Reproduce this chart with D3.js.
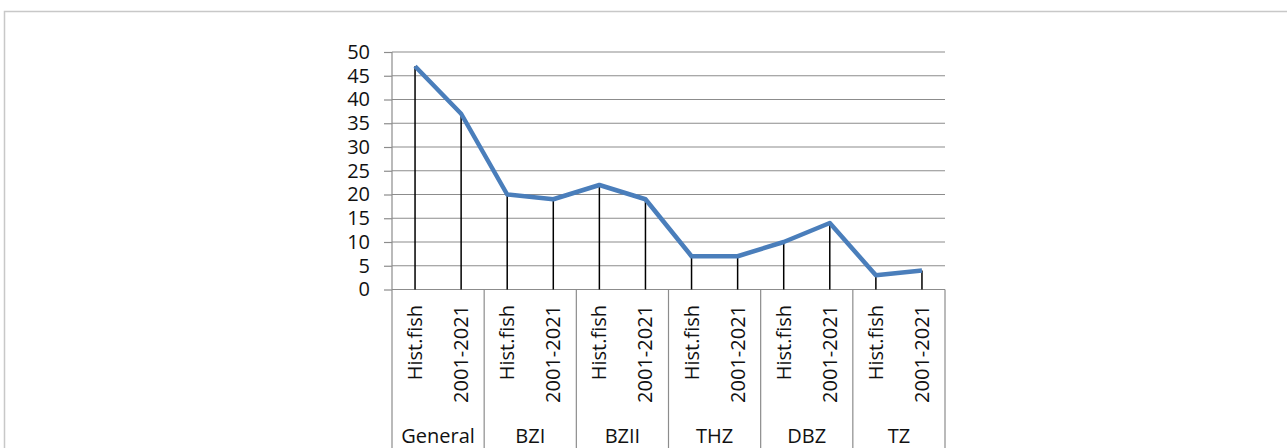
<!DOCTYPE html>
<html>
<head>
<meta charset="utf-8">
<script src="https://cdn.jsdelivr.net/npm/d3@7"></script>
<style>
  body { margin: 0; background: #fff; }
  text { font-family: "Open Sans", sans-serif; fill: #111; }
</style>
</head>
<body>
<svg id="vis" width="1287" height="448"></svg>
<script>
// data
var groups = ["General", "BZI", "BZII", "THZ", "DBZ", "TZ"];
var periods = ["Hist.fish", "2001-2021"];
var values = [47, 37, 20, 19, 22, 19, 7, 7, 10, 14, 3, 4];
var yTicks = [0, 5, 10, 15, 20, 25, 30, 35, 40, 45, 50];

var svg = d3.select("#vis");

// outer frame (only top and left edges show)
svg.append("path")
    .attr("d", "M4.5,448V11.5H1287")
    .attr("fill", "none")
    .attr("stroke", "#c8c8c8")
    .attr("stroke-width", 1.5);

var points = [];
groups.forEach(function(g, i) {
  periods.forEach(function(p, j) {
    points.push({group: g, period: p, key: g + "|" + p, value: values[i * 2 + j]});
  });
});

var x = d3.scaleBand()
    .domain(points.map(d => d.key))
    .range([392, 945]);

var xg = d3.scaleBand()
    .domain(groups)
    .range([392, 945]);

var y = d3.scaleLinear()
    .domain([0, 50])
    .range([289.5, 52]);

// gridlines
svg.append("g")
    .selectAll("line")
    .data(yTicks.filter(d => d > 0))
    .enter().append("line")
      .attr("x1", 392).attr("x2", 945)
      .attr("y1", d => y(d)).attr("y2", d => y(d))
      .attr("stroke", "#8c8c8c")
      .attr("stroke-width", 1.2);

// y axis
var yAxis = svg.append("g")
    .attr("transform", "translate(392,0)")
    .call(d3.axisLeft(y).tickValues(yTicks).tickSize(8).tickPadding(14));
yAxis.selectAll("line, path").attr("stroke", "#8c8c8c").attr("stroke-width", 1.2);
yAxis.select(".domain").attr("d", "M0,52V289.5");
yAxis.selectAll("text")
    .style("font-size", "20px")
    .style("font-family", "'Open Sans', sans-serif")
    .attr("fill", "#111");

// x axis + group separators
svg.append("line")
    .attr("x1", 392).attr("x2", 945)
    .attr("y1", y(0)).attr("y2", y(0))
    .attr("stroke", "#8c8c8c")
    .attr("stroke-width", 1.2);

svg.append("g")
    .selectAll("line")
    .data(groups.map(g => xg(g)).concat([945]))
    .enter().append("line")
      .attr("x1", d => d).attr("x2", d => d)
      .attr("y1", y(0)).attr("y2", 448)
      .attr("stroke", "#8c8c8c")
      .attr("stroke-width", 1.2);

// drop lines
svg.append("g")
    .selectAll("line")
    .data(points)
    .enter().append("line")
      .attr("x1", d => x(d.key) + x.bandwidth() / 2)
      .attr("x2", d => x(d.key) + x.bandwidth() / 2)
      .attr("y1", d => y(d.value))
      .attr("y2", y(0))
      .attr("stroke", "#000")
      .attr("stroke-width", 1.5);

// the series line
var line = d3.line()
    .x(d => x(d.key) + x.bandwidth() / 2)
    .y(d => y(d.value));

svg.append("path")
    .datum(points)
    .attr("d", line)
    .attr("fill", "none")
    .attr("stroke", "#4a7ebb")
    .attr("stroke-width", 4.5)
    .attr("stroke-linejoin", "round");

// rotated period labels
svg.append("g")
    .selectAll("text")
    .data(points)
    .enter().append("text")
      .attr("transform", d => "translate(" + (x(d.key) + x.bandwidth() / 2) + ",305) rotate(-90)")
      .attr("text-anchor", "end")
      .attr("dy", "0.35em")
      .style("font-size", "20px")
      .text(d => d.period);

// group labels
svg.append("g")
    .selectAll("text")
    .data(groups)
    .enter().append("text")
      .attr("x", d => xg(d) + xg.bandwidth() / 2)
      .attr("y", 443)
      .attr("text-anchor", "middle")
      .style("font-size", "20px")
      .text(d => d);
</script>
</body>
</html>
